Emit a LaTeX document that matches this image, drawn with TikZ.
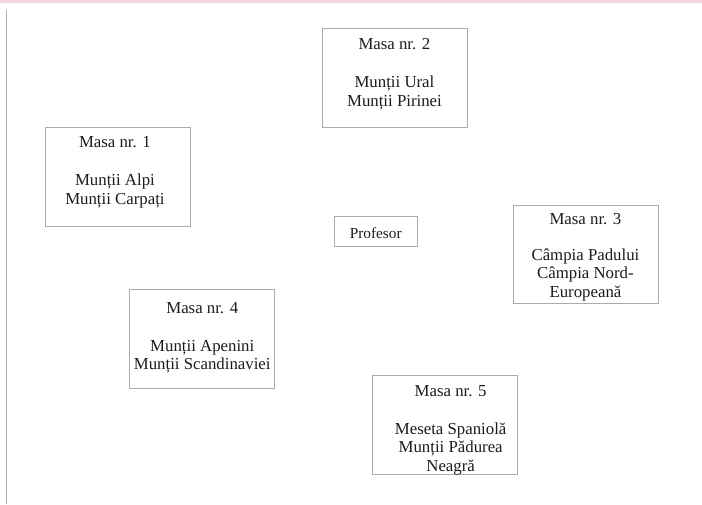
\documentclass[tikz,border=0pt]{standalone}
\usepackage{fontspec}
\setmainfont{Liberation Serif}
\definecolor{boxgray}{HTML}{ABABAB}
\definecolor{rulegray}{HTML}{B0B0B0}
\definecolor{topband}{HTML}{F7D2E2}
\definecolor{ink}{HTML}{1C1C1C}
\begin{document}
\begin{tikzpicture}[x=1pt,y=-1pt,
  tablebox/.style={draw=boxgray, line width=0.9pt, inner sep=0pt,
    minimum width=145pt, minimum height=99pt, anchor=north west},
  tabletext/.style={anchor=north, inner sep=0pt, align=center, text=ink,
    font=\fontsize{16.8}{18.3}\selectfont},
  deskbox/.style={draw=boxgray, line width=0.9pt, anchor=north west,
    inner xsep=0pt, inner ysep=0pt, minimum width=82.5pt,
    text height=22pt, text depth=7.7pt, text=ink,
    font=\fontsize{15.3}{18}\selectfont}]
\useasboundingbox (0,0) rectangle (702,504);
\fill[white] (0,0) rectangle (702,504);
% pink band along the top edge and grey rule on the left
\fill[topband] (0,0) rectangle (702,2.5);
\draw[rulegray, line width=1pt] (6.5,10) -- (6.5,504);

% teacher's desk
\node[deskbox] (prof) at (334,216) {Profesor};

% the five tables
\node[tablebox] (m1) at (45,127.3) {};
\node[tablebox] (m2) at (321.5,28.2) {};
\node[tablebox, minimum height=98pt] (m3) at (512.5,205) {};
\node[tablebox] (m4) at (129.3,289.3) {};
\node[tablebox] (m5) at (371.7,375) {};

\node[tabletext, xshift=-3pt] (t1) at (m1.north)
  {\rule{0pt}{20pt}Masa nr. 1\\[20pt]Munții Alpi\\Munții Carpați};
\node[tabletext] (t2) at (m2.north)
  {\rule{0pt}{21pt}Masa nr. 2\\[20pt]Munții Ural\\Munții Pirinei};
\node[tabletext] (t3) at (m3.north)
  {\rule{0pt}{19pt}Masa nr. 3\\[18pt]Câmpia Padului\\Câmpia Nord-\\Europeană};
\node[tabletext] (t4) at (m4.north)
  {\rule{0pt}{23.5pt}Masa nr. 4\\[20pt]Munții Apenini\\Munții Scandinaviei};
\node[tabletext, xshift=6pt] (t5) at (m5.north)
  {\rule{0pt}{21pt}Masa nr. 5\\[20pt]Meseta Spaniolă\\Munții Pădurea\\Neagră};
\end{tikzpicture}
\end{document}
